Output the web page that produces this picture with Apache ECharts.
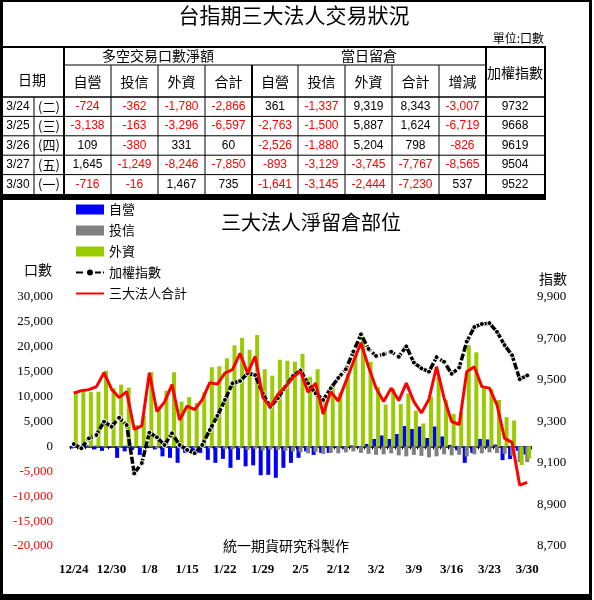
<!DOCTYPE html>
<html><head><meta charset="utf-8">
<script src="https://cdn.jsdelivr.net/npm/echarts@6/dist/echarts.min.js"></script>
<style>html,body{margin:0;padding:0;background:#fff}#c{width:594px;height:600px}</style>
</head><body><div id="c"></div><script>
// ---------- table data ----------
const tableDates = ['3/24','3/25','3/26','3/27','3/30'];
const tableWeekdays = ['(二)','(三)','(四)','(五)','(一)'];
const tradeDealer = [-724,-3138,109,1645,-716];
const tradeTrust = [-362,-163,-380,-1249,-16];
const tradeForeign = [-1780,-3296,331,-8246,1467];
const tradeTotal = [-2866,-6597,60,-7850,735];
const oiDealer = [361,-2763,-2526,-893,-1641];
const oiTrust = [-1337,-1500,-1880,-3129,-3145];
const oiForeign = [9319,5887,5204,-3745,-2444];
const oiTotal = [8343,1624,798,-7767,-7230];
const oiChange = [-3007,-6719,-826,-8565,537];
const tableIndex = [9732,9668,9619,9504,9522];
const subHeaders = ['自營','投信','外資','合計','自營','投信','外資','合計','增減'];

// ---------- chart data ----------
const categories = ['12/24','12/25','12/26','12/27','12/29','12/30','12/31','1/5','1/6','1/7','1/8','1/9','1/12','1/13','1/14','1/15','1/16','1/19','1/20','1/21','1/22','1/23','1/26','1/27','1/28','1/29','1/30','2/2','2/3','2/4','2/5','2/6','2/9','2/10','2/11','2/12','2/13','2/24','2/25','2/26','3/2','3/3','3/4','3/5','3/6','3/9','3/10','3/11','3/12','3/13','3/16','3/17','3/18','3/19','3/20','3/23','3/24','3/25','3/26','3/27','3/30'];
const dealer = [-400,-300,200,-600,-900,-300,-2300,-1000,-700,-1700,-300,-600,-2000,-2300,-3300,-1300,-1000,-1300,-2700,-3300,-2500,-4300,-2700,-4000,-3800,-5800,-5700,-6300,-4300,-3300,-2300,-1000,-1700,-1300,-1300,-300,-500,200,-200,500,1500,2200,1500,2500,4100,3500,4000,1700,4000,2000,300,-800,-3300,-1300,1500,1400,361,-2763,-2526,-893,-1641];
const trust = [-200,100,-100,200,-200,100,-300,200,-200,-300,200,-400,-300,-200,-400,-500,-300,-200,-400,-300,-500,-600,-400,-700,-500,-800,-600,-700,-900,-1000,-1200,-1400,-1100,-1500,-1300,-1400,-1200,-1000,-1300,-1500,-1700,-1600,-1400,-1800,-2000,-1700,-1900,-2200,-2000,-1600,-1800,-1700,-2000,-1600,-1400,-1200,-1337,-1500,-1880,-3129,-3145];
const foreign = [11100,11200,10900,11000,15200,11700,12400,11800,4300,6100,14900,8000,11200,14900,9000,9900,8700,10900,15900,16100,17700,20300,21800,19400,22400,15500,14200,17400,17200,17000,18600,14000,15500,9300,12500,10800,14700,18500,22000,17000,11900,8400,11600,8500,10600,7200,4600,10000,14000,9300,6500,6900,20300,18900,11900,11500,9319,5887,5204,-3745,-2444];
const taiex = [9191,9171,9219,9235,9299,9275,9318,9283,9050,9100,9246,9224,9187,9243,9187,9163,9147,9187,9259,9327,9404,9484,9495,9532,9524,9436,9371,9412,9468,9519,9546,9484,9436,9404,9460,9510,9552,9637,9720,9650,9616,9624,9636,9612,9662,9584,9556,9540,9610,9588,9530,9560,9685,9755,9770,9774,9732,9668,9619,9504,9522];
const netTotal = [10700,11200,11400,12000,14800,11500,9800,11000,3400,4100,14800,7000,8900,12400,5300,8100,7400,9400,12800,12500,14700,15400,18700,14700,18100,9900,7900,10400,12000,13800,15100,10900,12700,6500,11000,9100,13000,17000,20800,16000,11700,9000,11700,9200,12700,9000,6700,9500,16000,9700,5000,4400,15000,16000,12000,11700,8343,1624,798,-7767,-7230];

const CJK = '"Noto Sans CJK TC", "Noto Sans CJK SC", sans-serif';
const NUM = '"Liberation Sans", Arial, sans-serif';
const SERIF = '"Liberation Serif", "DejaVu Serif", serif';
const fmt = v => Number(v).toLocaleString('en-US');

// ---------- table graphics ----------
const g = [];
function rect(x,y,w,h,c){ g.push({type:'rect', silent:true, shape:{x,y,width:w,height:h}, style:{fill:c||'#000'}}); }
function line(x1,y1,x2,y2,w,c){ g.push({type:'line', silent:true, shape:{x1,y1,x2,y2}, style:{stroke:c||'#000', lineWidth:w||1}}); }
function text(t,x,y,font,fill,align){ g.push({type:'text', silent:true, style:{text:t, x, y, font, fill:fill||'#000', textAlign:align||'center', align:align||'center', textVerticalAlign:'middle', verticalAlign:'middle'}}); }

// outer frame
rect(0,0,592,2); rect(0,0,3,600); rect(589,0,3,600); rect(0,594,592,6);

const colX = [64,111,158,205,252,298,345,392,439,486,545];
const tTop = 47, tMid = 65, tHead = 97, rowH = 19.4;
const tBot = tHead + rowH*5;
line(0,tTop,546,tTop,2);
line(64,tMid,486,tMid,1);
line(0,tHead,546,tHead,1.5);
for (let r=1;r<5;r++) line(0,tHead+rowH*r,546,tHead+rowH*r,1);
rect(0,tBot,546,6);
colX.forEach((x,i)=>{
  const w = (i===0||i===4||i===9||i===10)?2:1;
  line(x,(i===0||i===9||i===10)?tTop:tMid,x,tBot,w);
});
line(34,tHead,34,tBot,1);

text('台指期三大法人交易狀況',294,15,'21px '+CJK);
text('單位:口數',544,38,'12px '+CJK,'#000','right');
text('日期',32,80,'14px '+CJK);
text('多空交易口數淨額',(64+252)/2,56,'14px '+CJK);
text('當日留倉',(252+486)/2,56,'14px '+CJK);
text('加權指數',515,73,'14px '+CJK);
subHeaders.forEach((h,i)=>text(h,(colX[i]+colX[i+1])/2,82,'14px '+CJK));
const cols = [tradeDealer,tradeTrust,tradeForeign,tradeTotal,oiDealer,oiTrust,oiForeign,oiTotal,oiChange];
for (let r=0;r<5;r++){
  const cy = tHead + rowH*r + rowH/2;
  text(tableDates[r],18,cy,'12px '+NUM);
  text(tableWeekdays[r],49,cy,'13px '+CJK);
  cols.forEach((arr,i)=>{
    const v = arr[r];
    text(fmt(v),(colX[i]+colX[i+1])/2,cy,'12px '+NUM, v<0?'#ff0000':'#000');
  });
  text(String(tableIndex[r]),515,cy,'12px '+NUM);
}

// chart texts
text('三大法人淨留倉部位',311,222,'20px '+CJK);
text('口數',38,270,'14px '+CJK);
text('指數',553,279,'14px '+CJK);
text('統一期貨研究科製作',286,546,'14px '+CJK);

const chart = echarts.init(document.getElementById('c'), null, {renderer:'canvas'});
chart.setOption({
  animation:false,
  backgroundColor:'#fff',
  grid:{left:70,right:63,top:297,bottom:54},
  legend:{
    orient:'vertical', left:70, top:198, itemWidth:28, itemHeight:10, itemGap:8,
    textStyle:{fontFamily:CJK, fontSize:13, color:'#000'},
    data:[{name:'自營',icon:'rect'},{name:'投信',icon:'rect'},{name:'外資',icon:'rect'},'加權指數',
          {name:'三大法人合計', itemStyle:{opacity:0}}]
  },
  xAxis:[
    {type:'category', data:categories, boundaryGap:true, position:'bottom',
     axisLine:{show:false, onZero:false}, axisTick:{show:false},
     axisLabel:{interval:4, margin:17, fontFamily:SERIF, fontSize:13, fontWeight:'bold', color:'#000'}},
    {type:'category', data:categories, boundaryGap:true, position:'bottom',
     axisLine:{show:true, onZero:true, lineStyle:{color:'#000', width:1.5}},
     axisTick:{show:true, interval:0, length:3, lineStyle:{color:'#000'}},
     axisLabel:{show:false}}
  ],
  yAxis:[
    {type:'value', min:-20000, max:30000, interval:5000, splitLine:{show:false},
     axisLine:{show:false}, axisTick:{show:false},
     axisLabel:{margin:17, fontFamily:SERIF, fontSize:13, formatter:v=>fmt(v), color:v=>(v<0?'#ff0000':'#000')}},
    {type:'value', min:8700, max:9900, interval:200, position:'right', splitLine:{show:false},
     axisLine:{show:false}, axisTick:{show:false},
     axisLabel:{margin:6, fontFamily:SERIF, fontSize:13, color:'#000', formatter:v=>fmt(v)}}
  ],
  series:[
    {name:'自營', type:'bar', data:dealer, barWidth:4, barGap:'-50%', itemStyle:{color:'#0000ff'}},
    {name:'投信', type:'bar', data:trust, barWidth:4, barGap:'-50%', itemStyle:{color:'#808080'}},
    {name:'外資', type:'bar', data:foreign, barWidth:4, barGap:'-50%', itemStyle:{color:'#99cc00'}},
    {name:'加權指數', type:'line', yAxisIndex:1, data:taiex, z:3,
     lineStyle:{color:'#000', width:3.5, type:[7,2]}, symbol:'circle', symbolSize:5,
     itemStyle:{color:'#000', borderColor:'#fff', borderWidth:1}},
    {name:'三大法人合計', type:'line', data:netTotal, z:4, symbol:'none',
     lineStyle:{color:'#ff0000', width:3}, itemStyle:{color:'#ff0000'}}
  ],
  graphic:g
});
</script></body></html>
